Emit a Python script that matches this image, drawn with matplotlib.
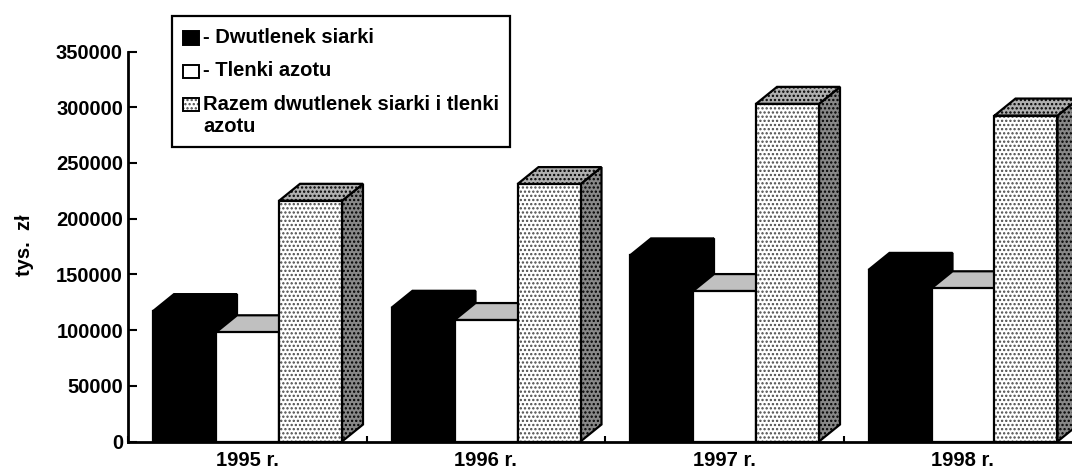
import matplotlib
matplotlib.use("Agg")
import matplotlib.pyplot as plt
from matplotlib.patches import Polygon, Rectangle

# ---------------- data ----------------
years = ["1995 r.", "1996 r.", "1997 r.", "1998 r."]
so2 = [117000, 120000, 167000, 154000]          # Dwutlenek siarki
nox = [98000, 109000, 135000, 137500]           # Tlenki azotu
total = [216000, 231000, 303000, 292500]        # Razem
series_labels = ["- Dwutlenek siarki", "- Tlenki azotu",
                 "Razem dwutlenek siarki i tlenki\nazotu"]
y_ticks = [0, 50000, 100000, 150000, 200000, 250000, 300000, 350000]
y_label = "tys.  zł"

# ---------------- layout ----------------
W, H = 1072, 469
plt.rcParams['font.family'] = ['Liberation Sans', 'DejaVu Sans']
plt.rcParams['font.weight'] = 'bold'
plt.rcParams['hatch.linewidth'] = 1.1
FS = 14.5

fig = plt.figure(figsize=(W / 100, H / 100), dpi=100)
ax = fig.add_axes([128 / W, (H - 441.5) / H, 954 / W, 390 / H])
ax.set_xlim(0, 4)
ax.set_ylim(0, 350000)

cat_px = 238.5
bar_w = 63 / cat_px
first_off = 25 / cat_px
dx = 21 / cat_px
dy = 17 / 390 * 350000

styles = [
    dict(front="#000000", top="#000000", side="#000000", hf=None, ht=None, hs=None),
    dict(front="#ffffff", top="#c0c0c0", side="#808080", hf=None, ht=None, hs=None),
    dict(front="#ffffff", top="#b0b0b0", side="#888888",
         hf="#4a4a4a", ht="#000000", hs="#000000"),
]
HATCH = "...."
series = [so2, nox, total]


def face(verts, color, hcol, z, lw=1.6):
    if hcol is not None:
        ax.add_patch(Polygon(verts, closed=True, facecolor=color, edgecolor=hcol,
                             hatch=HATCH, linewidth=0, zorder=z))
    else:
        ax.add_patch(Polygon(verts, closed=True, facecolor=color, edgecolor="none",
                             linewidth=0, zorder=z))
    ax.add_patch(Polygon(verts, closed=True, fill=False, edgecolor="black",
                         linewidth=lw, joinstyle="miter", zorder=z + 0.5))


z = 2
for j, vals in enumerate(series):
    st = styles[j]
    for i, v in enumerate(vals):
        x0 = i + first_off + j * bar_w
        x1 = x0 + bar_w
        # side face
        face([(x1, 0), (x1, v), (x1 + dx, v + dy), (x1 + dx, dy)], st["side"], st["hs"], z)
        # top face
        face([(x0, v), (x1, v), (x1 + dx, v + dy), (x0 + dx, v + dy)], st["top"], st["ht"], z + 1)
    # front faces through ax.bar
    xs = [i + first_off + j * bar_w for i in range(len(vals))]
    if st["hf"] is not None:
        ax.bar(xs, vals, width=bar_w, align="edge", color=st["front"], edgecolor=st["hf"],
               hatch=HATCH, linewidth=0, zorder=z + 2)
    else:
        ax.bar(xs, vals, width=bar_w, align="edge", color=st["front"], linewidth=0, zorder=z + 2)
    ax.bar(xs, vals, width=bar_w, align="edge", fill=False, edgecolor="black",
           linewidth=1.6, zorder=z + 2.5)
    z += 4

# axes styling
for s in ["top", "right"]:
    ax.spines[s].set_visible(False)
for s in ["left", "bottom"]:
    ax.spines[s].set_linewidth(2.0)
    ax.spines[s].set_zorder(30)

ax.set_yticks(y_ticks)
ax.set_yticklabels([str(t) for t in y_ticks], fontsize=FS, fontweight="bold")
ax.tick_params(axis="y", direction="in", length=6.5, width=1.5, pad=3.6)

ax.set_xticks([0, 1, 2, 3, 4])
ax.set_xticklabels([""] * 5)
ax.tick_params(axis="x", which="major", direction="in", length=4.5, width=1.5)
ax.set_xticks([i + 0.5 for i in range(len(years))], minor=True)
ax.set_xticklabels(years, minor=True, fontsize=FS, fontweight="bold")
ax.tick_params(axis="x", which="minor", length=0, pad=7)
ax.set_facecolor("none")

fig.text(25 / W, 1 - 245 / H, y_label, rotation=90, ha="center", va="center",
         fontsize=FS, fontweight="bold")


# ---------------- legend (manual, figure pixels) ----------------
def fx(x):
    return x / W


def fy(y):
    return 1 - y / H


fig.add_artist(Rectangle((fx(172), fy(147)), (510 - 172) / W, (147 - 16) / H,
                         transform=fig.transFigure, fill=False, edgecolor="black",
                         linewidth=1.6, zorder=40))
sq = [(31.5, 45), (65, 78), (98.5, 111.5)]
txt_y = [37.5, 70.7, 116]
sq_fc = ["#000000", "#ffffff", "#ffffff"]
sq_h = [None, None, "#4a4a4a"]
for k in range(3):
    y0, y1 = sq[k]
    if sq_h[k] is not None:
        fig.add_artist(Rectangle((fx(183), fy(y1)), 16 / W, (y1 - y0) / H,
                                 transform=fig.transFigure, facecolor=sq_fc[k],
                                 edgecolor=sq_h[k], hatch=HATCH, linewidth=0, zorder=40))
    else:
        fig.add_artist(Rectangle((fx(183), fy(y1)), 16 / W, (y1 - y0) / H,
                                 transform=fig.transFigure, facecolor=sq_fc[k],
                                 edgecolor="none", linewidth=0, zorder=40))
    fig.add_artist(Rectangle((fx(183), fy(y1)), 16 / W, (y1 - y0) / H,
                             transform=fig.transFigure, fill=False,
                             edgecolor="black", linewidth=1.4, zorder=41))
    fig.text(fx(203), fy(txt_y[k]), series_labels[k], ha="left", va="center",
             fontsize=FS, fontweight="bold", linespacing=1.2, zorder=42)

fig.savefig("out.png", dpi=100)
